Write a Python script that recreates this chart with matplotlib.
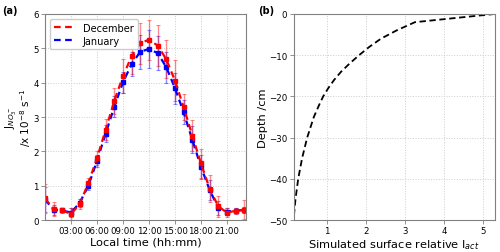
import matplotlib.pyplot as plt
from matplotlib.lines import Line2D
import numpy as np

# Panel (a): hourly photolysis rates, mean +/- std
hours = np.arange(24)
dec_vals = [0.63, 0.32, 0.28, 0.18, 0.46, 1.08, 1.80, 2.63, 3.47, 4.19, 4.77, 5.15,
            5.25, 5.08, 4.68, 4.06, 3.29, 2.46, 1.65, 0.92, 0.40, 0.22, 0.27, 0.30]
jan_vals = [0.60, 0.30, 0.28, 0.22, 0.50, 1.00, 1.72, 2.52, 3.30, 4.01, 4.54, 4.90,
            4.98, 4.86, 4.45, 3.84, 3.14, 2.34, 1.55, 0.88, 0.35, 0.25, 0.27, 0.30]
dec_err = [0.42, 0.20, 0.06, 0.17, 0.15, 0.15, 0.20, 0.30, 0.38, 0.50, 0.52, 0.60,
           0.58, 0.60, 0.55, 0.60, 0.38, 0.45, 0.42, 0.38, 0.30, 0.12, 0.08, 0.28]
jan_err = [0.35, 0.15, 0.05, 0.12, 0.12, 0.12, 0.18, 0.25, 0.30, 0.30, 0.35, 0.50,
           0.55, 0.50, 0.45, 0.45, 0.35, 0.40, 0.35, 0.30, 0.20, 0.10, 0.07, 0.08]
time_ticks = [3, 6, 9, 12, 15, 18, 21]
time_labels = ["03:00", "06:00", "09:00", "12:00", "15:00", "18:00", "21:00"]

# Panel (b): relative actinic flux vs snow depth
depth = [0, -2, -4, -6, -8, -10, -12, -14, -16, -18, -20, -22, -25,
         -30, -35, -40, -45, -50]
rel_iact = [5.3, 3.25, 2.78, 2.38, 2.08, 1.82, 1.58, 1.36, 1.18, 1.03, 0.90, 0.80,
            0.66, 0.49, 0.36, 0.26, 0.19, 0.14]

fig = plt.figure(figsize=(5.0, 2.53), dpi=100)
ax1 = fig.add_axes([0.09, 0.126, 0.402, 0.815])
ax2 = fig.add_axes([0.587, 0.126, 0.403, 0.815])

spine_col = "#808080"
grid_kw = dict(color="#cccccc", linestyle=":", linewidth=0.7)

# January first so December sits on top
ax1.errorbar(hours, jan_vals, yerr=jan_err, color="blue", ls="--", lw=1.6,
             marker="s", ms=3.5, ecolor=(0, 0, 1, 0.45), elinewidth=1.0,
             capsize=1.5, capthick=0.8, dashes=(3, 2))
ax1.errorbar(hours, dec_vals, yerr=dec_err, color="red", ls="--", lw=1.6,
             marker="s", ms=3.5, ecolor=(1, 0, 0, 0.45), elinewidth=1.0,
             capsize=1.5, capthick=0.8, dashes=(3, 2))
ax1.set_xlim(0, 23.2)
ax1.set_ylim(0, 6)
ax1.set_xticks(time_ticks)
ax1.set_xticklabels(time_labels)
ax1.set_yticks(range(7))
ax1.grid(True, **grid_kw)
ax1.set_xlabel("Local time (hh:mm)", fontsize=8.2, labelpad=1)
ax1.set_ylabel("J$_{NO_3^-}$\n/x 10$^{-8}$ s$^{-1}$", fontsize=7.5,
               linespacing=1.0)
ax1.yaxis.set_label_coords(-0.058, 0.5)
handles = [Line2D([], [], color="red", ls="--", lw=1.6, dashes=(3, 2)),
           Line2D([], [], color="blue", ls="--", lw=1.6, dashes=(3, 2))]
leg = ax1.legend(handles, ["December", "January"], loc="upper left",
                 fontsize=7, handlelength=2.2, borderpad=0.4, labelspacing=0.3,
                 framealpha=1)
leg.get_frame().set_edgecolor("#cccccc")

ax2.plot(rel_iact, depth, color="black", ls="--", lw=1.3, dashes=(3.5, 2))
ax2.set_xlim(0.14, 5.3)
ax2.set_ylim(-50, 0)
ax2.set_xticks([1, 2, 3, 4, 5])
ax2.set_yticks([0, -10, -20, -30, -40, -50])
ax2.grid(True, **grid_kw)
ax2.set_xlabel("Simulated surface relative I$_{act}$", fontsize=8.2, labelpad=1)
ax2.set_ylabel("Depth /cm", fontsize=8.2, labelpad=1)

for ax in (ax1, ax2):
    ax.tick_params(labelsize=6.2, length=3, width=0.6, pad=1.5, color=spine_col)
    for s in ax.spines.values():
        s.set_color(spine_col)
        s.set_linewidth(0.8)

fig.text(0.005, 0.955, "(a)", fontsize=7, fontweight="bold", va="center")
fig.text(0.516, 0.955, "(b)", fontsize=7, fontweight="bold", va="center")

fig.savefig("out.png", dpi=100)
